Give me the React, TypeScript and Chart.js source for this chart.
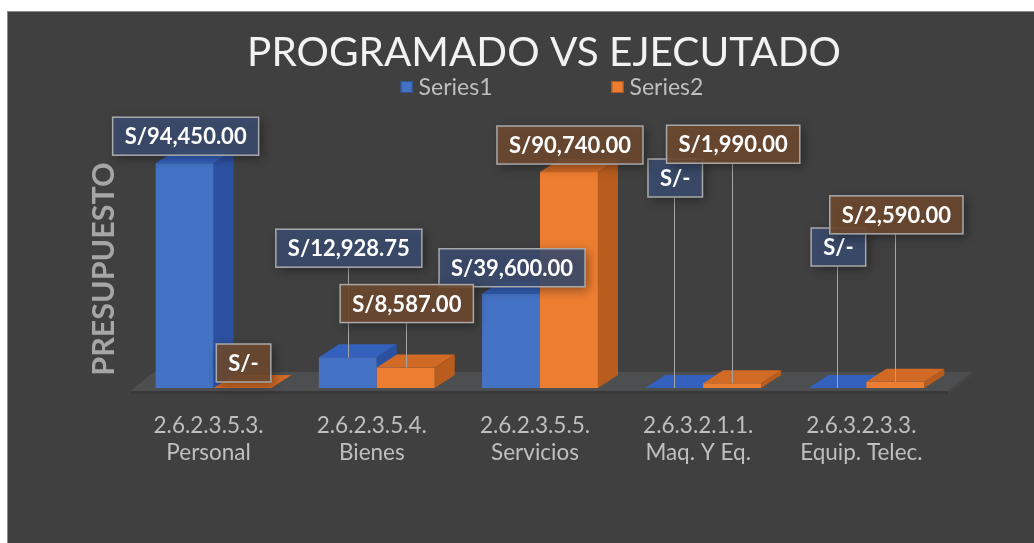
import React, { useEffect, useRef } from "react";
import { Chart, registerables } from "chart.js";

Chart.register(...registerables);

// ---------- data ----------
const categories: string[][] = [
  ["2.6.2.3.5.3.", "Personal"],
  ["2.6.2.3.5.4.", "Bienes"],
  ["2.6.2.3.5.5.", "Servicios"],
  ["2.6.3.2.1.1.", "Maq. Y Eq."],
  ["2.6.3.2.3.3.", "Equip. Telec."],
];
const series1Values: number[] = [94450, 12928.75, 39600, 0, 0];
const series2Values: number[] = [0, 8587, 90740, 1990, 2590];
const seriesNames: string[] = ["Series1", "Series2"];
const chartTitle = "PROGRAMADO VS EJECUTADO";
const axisTitle = "PRESUPUESTO";
const yMax = 100000;

// ---------- label placement (px above each bar's top) ----------
const series1LabelLift: number[] = [27, 109, 26, 210, 141];
const series2LabelLift: number[] = [25, 64, 27, 239, 167];

// ---------- styles ----------
const FONT = "Lato, 'Open Sans', sans-serif";
const DX = 20;
const DY = -13;
const TITLE_SHIFT = 27;
const seriesStyle = [
  { front: "#4472c4", top: "#3361bd", side: "#2c51a0", label: "rgba(58,76,110,0.88)", legendBorder: "#2f528f" },
  { front: "#ed7d31", top: "#d06a25", side: "#b95d1f", label: "rgba(112,74,48,0.88)", legendBorder: "#ae5a21" },
];
const lifts = [series1LabelLift, series2LabelLift];

function fmt(v: number): string {
  if (v === 0) return "S/-";
  const [i, d] = v.toFixed(2).split(".");
  return "S/" + i.replace(/\B(?=(\d{3})+(?!\d))/g, ",") + "." + d;
}

const bars3d = {
  id: "bars3d",
  afterLayout(chart: any) {
    const tb = chart.titleBlock;
    if (tb) {
      tb.left += TITLE_SHIFT;
      tb.right += TITLE_SHIFT;
    }
  },
  beforeDatasetsDraw(chart: any) {
    const ctx = chart.ctx;
    const { left, right } = chart.chartArea;
    const y0 = chart.scales.y.getPixelForValue(0);
    ctx.save();
    ctx.fillStyle = "#4d4e50";
    ctx.beginPath();
    ctx.moveTo(left - 2, y0 + 3);
    ctx.lineTo(right, y0 + 3);
    ctx.lineTo(right + DX + 4, y0 + 3 + DY - 6);
    ctx.lineTo(left + DX + 2, y0 + 3 + DY - 6);
    ctx.closePath();
    ctx.fill();
    ctx.fillStyle = "#393939";
    ctx.beginPath();
    ctx.moveTo(left - 2, y0 + 3);
    ctx.lineTo(right, y0 + 3);
    ctx.lineTo(right, y0 + 6);
    ctx.lineTo(left - 2, y0 + 6);
    ctx.closePath();
    ctx.fill();
    ctx.fillStyle = "#474747";
    ctx.beginPath();
    ctx.moveTo(right, y0 + 3);
    ctx.lineTo(right + DX + 4, y0 + 3 + DY - 6);
    ctx.lineTo(right + DX + 4, y0 + 6 + DY - 6);
    ctx.lineTo(right, y0 + 6);
    ctx.closePath();
    ctx.fill();
    ctx.restore();
  },
  beforeDatasetDraw() {
    return false;
  },
  afterDatasetsDraw(chart: any) {
    const ctx = chart.ctx;
    const metas = [chart.getDatasetMeta(0), chart.getDatasetMeta(1)];
    const n = chart.data.labels.length;
    ctx.save();
    for (let i = 0; i < n; i++) {
      for (let d = 0; d < 2; d++) {
        const el = metas[d].data[i];
        const { x, y, base, width } = el.getProps(["x", "y", "base", "width"], true);
        const l = x - width / 2;
        const r = x + width / 2;
        const st = seriesStyle[d];
        ctx.fillStyle = st.front;
        ctx.fillRect(l, y, width, base - y);
        ctx.fillStyle = st.top;
        ctx.beginPath();
        ctx.moveTo(l, y);
        ctx.lineTo(r, y);
        ctx.lineTo(r + DX, y + DY);
        ctx.lineTo(l + DX, y + DY);
        ctx.closePath();
        ctx.fill();
        ctx.fillStyle = st.side;
        ctx.beginPath();
        ctx.moveTo(r, y);
        ctx.lineTo(r + DX, y + DY);
        ctx.lineTo(r + DX, base + DY);
        ctx.lineTo(r, base);
        ctx.closePath();
        ctx.fill();
      }
    }
    // data labels
    ctx.font = `bold 22px ${FONT}`;
    ctx.textAlign = "center";
    ctx.textBaseline = "middle";
    const boxes: any[] = [];
    for (let d = 0; d < 2; d++) {
      const values = chart.data.datasets[d].data as number[];
      for (let i = 0; i < n; i++) {
        const el = metas[d].data[i];
        const { x, y } = el.getProps(["x", "y"], true);
        const text = fmt(values[i]);
        const w = ctx.measureText(text).width + 24;
        const h = 38;
        boxes.push({ d, x, y, text, w, h, cx: x + 1, cy: y - lifts[d][i] });
      }
    }
    ctx.strokeStyle = "#a6a6a6";
    ctx.lineWidth = 1;
    for (const b of boxes) {
      const bottom = b.cy + b.h / 2;
      if (b.y - bottom > 12) {
        ctx.beginPath();
        ctx.moveTo(Math.round(b.x) + 0.5, bottom);
        ctx.lineTo(Math.round(b.x) + 0.5, b.y);
        ctx.stroke();
      }
    }
    for (const b of boxes) {
      const st = seriesStyle[b.d];
      const bx = b.cx - b.w / 2;
      const by = b.cy - b.h / 2;
      ctx.save();
      ctx.shadowColor = "rgba(0,0,0,0.45)";
      ctx.shadowBlur = 10;
      ctx.shadowOffsetX = 3;
      ctx.shadowOffsetY = 3;
      ctx.fillStyle = st.label;
      ctx.fillRect(bx, by, b.w, b.h);
      ctx.restore();
      ctx.strokeStyle = "#a9a9a9";
      ctx.lineWidth = 1.5;
      ctx.strokeRect(bx, by, b.w, b.h);
      ctx.fillStyle = "#ffffff";
      ctx.fillText(b.text, b.cx, b.cy + 1);
    }
    ctx.restore();
  },
  afterDraw(chart: any) {
    const ctx = chart.ctx;
    ctx.save();
    ctx.font = `23px ${FONT}`;
    ctx.textBaseline = "middle";
    ctx.textAlign = "left";
    const gap = 119;
    const names = chart.data.datasets.map((ds: any) => ds.label);
    const widths = names.map((t: string) => ctx.measureText(t).width);
    const total = widths.reduce((a: number, b: number) => a + b, 0) + 2 * 18 + gap;
    let x = chart.width / 2 + 8 - total / 2;
    const cy = 75;
    names.forEach((t: string, k: number) => {
      ctx.fillStyle = seriesStyle[k].front;
      ctx.fillRect(x, cy - 6, 12, 12);
      ctx.strokeStyle = seriesStyle[k].legendBorder;
      ctx.lineWidth = 1;
      ctx.strokeRect(x + 0.5, cy - 5.5, 11, 11);
      ctx.fillStyle = "#bfbfbf";
      ctx.fillText(t, x + 18, cy + 1);
      x += 18 + widths[k] + gap;
    });
    ctx.restore();
  },
};

export default function App() {
  const ref = useRef<HTMLCanvasElement>(null);
  useEffect(() => {
    const chart = new Chart(ref.current as HTMLCanvasElement, {
      type: "bar",
      data: {
        labels: categories,
        datasets: [
          { label: seriesNames[0], data: series1Values, backgroundColor: seriesStyle[0].front },
          { label: seriesNames[1], data: series2Values, backgroundColor: seriesStyle[1].front },
        ],
      },
      options: {
        responsive: false,
        animation: false,
        layout: { padding: { left: 78, right: 132, top: 0, bottom: 0 } },
        datasets: { bar: { categoryPercentage: 0.71, barPercentage: 1 } },
        plugins: {
          legend: { display: false },
          tooltip: { enabled: false },
          title: {
            display: true,
            text: chartTitle,
            color: "#f2f2f2",
            font: { family: FONT, size: 40.5, weight: "normal", lineHeight: 1.2 },
            padding: { top: 17, bottom: 72.4 },
          },
        },
        scales: {
          x: {
            grid: { display: false, drawTicks: false },
            border: { display: false },
            ticks: {
              color: "#bfbfbf",
              font: { family: FONT, size: 22.5, lineHeight: 1.22 },
              padding: 24,
              labelOffset: -5,
              maxRotation: 0,
              autoSkip: false,
            },
            afterFit: (s: any) => {
              s.height = 155;
            },
          },
          y: {
            min: 0,
            max: yMax,
            grid: { display: false, drawTicks: false },
            border: { display: false },
            ticks: { display: false },
            title: {
              display: true,
              text: axisTitle,
              color: "#a6a6a6",
              font: { family: FONT, size: 30.5, weight: "bold", lineHeight: 1.2 },
              padding: 0,
            },
            afterFit: (s: any) => {
              s.width = 46;
            },
          },
        },
      } as any,
      plugins: [bars3d as any],
    });
    return () => chart.destroy();
  }, []);
  return (
    <div
      style={{
        position: "fixed",
        left: 7,
        top: 11,
        width: 1027,
        height: 532,
        overflow: "hidden",
        background: "#404040",
        borderLeft: "1px solid #8c8c8c",
        borderTop: "1px solid #8c8c8c",
        boxSizing: "border-box",
      }}
    >
      <canvas ref={ref} width={1072} height={531} style={{ display: "block", width: 1072, height: 531 }} />
    </div>
  );
}
